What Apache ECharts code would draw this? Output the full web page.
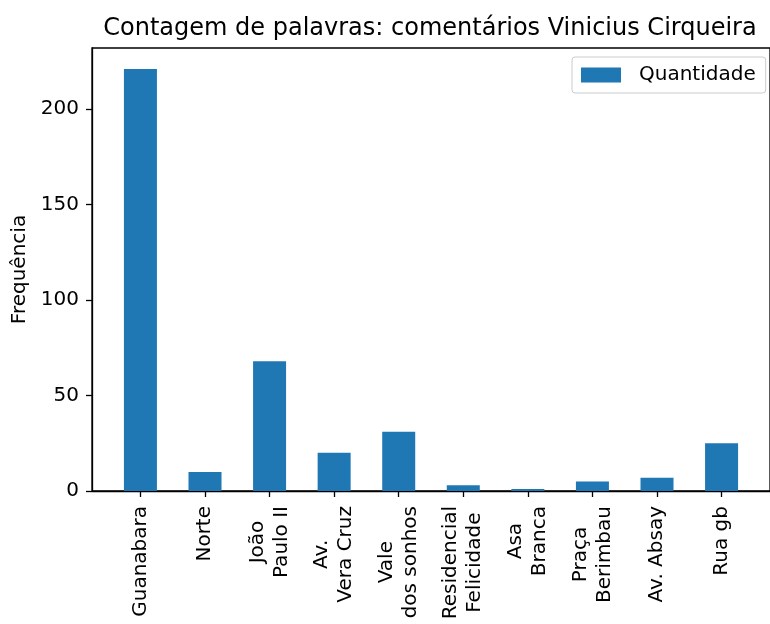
<!DOCTYPE html>
<html>
<head>
<meta charset="utf-8">
<script src="https://cdn.jsdelivr.net/npm/echarts@6/dist/echarts.min.js"></script>
<style>
  html, body { margin: 0; padding: 0; background: #fff; }
  #chart { width: 770px; height: 624px; }
</style>
</head>
<body>
<div id="chart"></div>
<script>
// bairros (rótulos do eixo x, com quebra de linha)
const bairros = ['Guanabara', 'Norte', 'João\nPaulo II', 'Av.\nVera Cruz', 'Vale\ndos sonhos',
    'Residencial\nFelicidade', 'Asa\nBranca', 'Praça\nBerimbau', 'Av. Absay', 'Rua gb'];
// contagem de palavras por bairro
const quantidade = [221, 10, 68, 20, 31, 3, 1, 5, 7, 25];
const yTicks = [0, 50, 100, 150, 200];

const fonte = 'DejaVu Sans';
const chart = echarts.init(document.getElementById('chart'), null, { renderer: 'canvas' });

// posição de cada barra = índice do bairro
const barData = quantidade.map((v, i) => [i, v]);
const xTicks = bairros.map((b, i) => i);

const option = {
    backgroundColor: '#fff',
    animation: false,
    title: {
        text: 'Contagem de palavras: comentários Vinicius Cirqueira',
        left: 425,
        textAlign: 'center',
        top: 12,
        textStyle: { fontFamily: fonte, fontSize: 24, fontWeight: 'normal', color: '#000' }
    },
    legend: {
        data: ['Quantidade'],
        left: 572,
        top: 57,
        orient: 'vertical',
        icon: 'rect',
        itemWidth: 40,
        itemHeight: 15,
        padding: [8, 10, 8, 9],
        borderColor: '#cccccc',
        borderWidth: 1,
        borderRadius: 3,
        textStyle: { fontFamily: fonte, fontSize: 20, color: '#000', padding: [0, 0, 0, 13] }
    },
    grid: {
        show: true,
        left: 92,
        right: -6,
        top: 48,
        bottom: 133,
        borderColor: '#000',
        borderWidth: 1.3,
        containLabel: false
    },
    xAxis: {
        type: 'value',
        min: -0.75,
        max: 9.75,
        splitLine: { show: false },
        axisLine: { show: true, onZero: false, lineStyle: { color: '#000', width: 1.3 } },
        axisTick: { show: true, length: 6, customValues: xTicks, lineStyle: { color: '#000', width: 1.3 } },
        axisLabel: {
            customValues: xTicks,
            rotate: 90,
            margin: 15,
            fontFamily: fonte,
            fontSize: 20,
            color: '#000',
            lineHeight: 24,
            formatter: function (v) {
                const nome = bairros[Math.round(v)] || '';
                return nome.split('\n').map(l => '{a|' + l + '}').join('\n');
            },
            rich: {
                // linhas centradas dentro do bloco, como no matplotlib
                a: { fontFamily: fonte, fontSize: 20, color: '#000', lineHeight: 24, align: 'center' }
            }
        }
    },
    yAxis: {
        type: 'value',
        min: 0,
        max: 232,
        name: 'Frequência',
        nameLocation: 'middle',
        nameGap: 58,
        nameTextStyle: { fontFamily: fonte, fontSize: 20, color: '#000' },
        splitLine: { show: false },
        axisLine: { show: true, onZero: false, lineStyle: { color: '#000', width: 1.3 } },
        axisTick: { show: true, length: 6, customValues: yTicks, lineStyle: { color: '#000', width: 1.3 } },
        axisLabel: {
            customValues: yTicks,
            margin: 13,
            fontFamily: fonte,
            fontSize: 20,
            color: '#000'
        }
    },
    series: [
        {
            name: 'Quantidade',
            type: 'bar',
            data: barData,
            barWidth: 33,
            itemStyle: { color: '#1f77b4' }
        }
    ]
};

chart.setOption(option);
</script>
</body>
</html>
